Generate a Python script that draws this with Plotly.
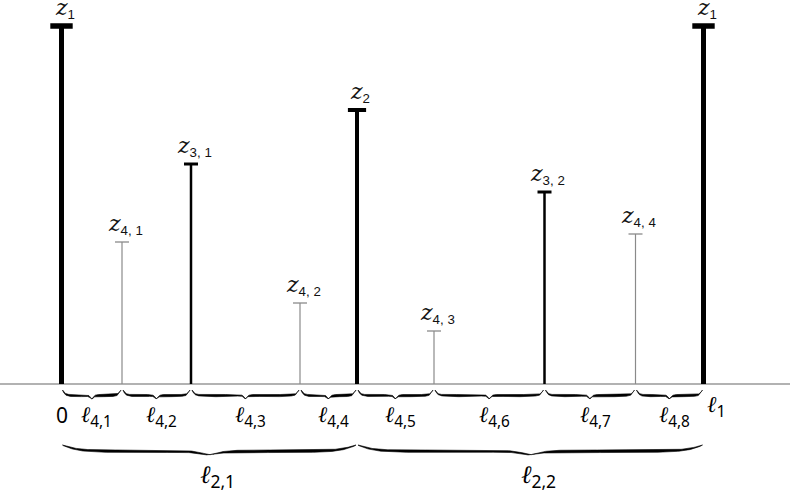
import numpy as np
import plotly.graph_objects as go

# ---- data ----
stem_subs = ["1", "4, 1", "3, 1", "4, 2", "2", "4, 3", "3, 2", "4, 4", "1"]
stem_x = [0, 60.5, 129.5, 238.5, 295.5, 372.5, 483, 574, 642]
stem_height = [358, 142, 220, 81, 274, 53, 192, 150, 358]
stem_level = [1, 4, 3, 4, 2, 4, 3, 4, 1]

fine_subs = ["4,1", "4,2", "4,3", "4,4", "4,5", "4,6", "4,7", "4,8"]
coarse_subs = ["2,1", "2,2"]
coarse_bounds = [0, 295.5, 642]
end_labels = ["0", "1"]

ELL = "<span style='font-family:DejaVu Serif'><i>ℓ</i></span>"
ZED = "<span style='font-family:DejaVu Serif;font-size:22px'><i>z</i></span>"

# ---- styles ----
level_style = {  # stem width, cap width, cap thickness, color
    1: (5, 16, 5.5, "black"),
    2: (4, 13, 4, "black"),
    3: (2.5, 10, 3, "black"),
    4: (1.2, 10, 1.3, "#8a8a8a"),
}
SANS = "Noto Sans, DejaVu Sans"

fig = go.Figure()

# stems + caps
for lvl in [4, 3, 2, 1]:
    sw, cw, ct, col = level_style[lvl]
    xs, ys, cx, cy = [], [], [], []
    for x, h, l in zip(stem_x, stem_height, stem_level):
        if l == lvl:
            xs += [x, x, None]
            ys += [0, h, None]
            cx.append(x)
            cy.append(h)
    fig.add_trace(go.Scatter(x=xs, y=ys, mode="lines",
                             line=dict(color=col, width=sw), hoverinfo="skip"))
    fig.add_trace(go.Scatter(x=cx, y=cy, mode="markers",
                             marker=dict(symbol="line-ew", size=cw,
                                         line=dict(color=col, width=ct)),
                             hoverinfo="skip"))


def brace(x0, x1, y0, depth, beta, wmax, n=160):
    half = (x1 - x0) / 2.0
    s = np.linspace(0, half, n)
    yh = 1 / (1 + np.exp(-beta * s)) + 1 / (1 + np.exp(-beta * (s - half)))
    yh = (yh - yh[0]) / (yh[-1] - yh[0])
    u = s / half
    w = wmax * np.clip(4 * u * (1 - u), 0, 1) ** 0.5
    upper_l_x = x0 + s
    upper_l_y = y0 - depth * yh
    upper_r_x = (x1 - s)[::-1]
    upper_r_y = upper_l_y[::-1]
    lower_l_y = upper_l_y - w
    lower_r_y = lower_l_y[::-1]
    px = np.concatenate([upper_l_x, upper_r_x, upper_r_x[::-1], upper_l_x[::-1]])
    py = np.concatenate([upper_l_y, upper_r_y, lower_r_y[::-1], lower_l_y[::-1]])
    return px, py


# fine braces
for i in range(len(stem_x) - 1):
    a, b = stem_x[i] + 1, stem_x[i + 1] - 1
    px, py = brace(a, b, -6, 9, 0.7, 2.2)
    fig.add_trace(go.Scatter(x=px, y=py, mode="lines", fill="toself",
                             fillcolor="black", line=dict(color="black", width=0.6),
                             hoverinfo="skip"))
    fig.add_annotation(x=(stem_x[i] + stem_x[i + 1]) / 2, y=-33,
                       text=ELL + "<sub>" + fine_subs[i] + "</sub>",
                       showarrow=False, xshift=5, xanchor="center", yanchor="middle",
                       font=dict(size=22, family=SANS, color="black"))

# coarse braces
for i in range(len(coarse_bounds) - 1):
    a, b = coarse_bounds[i] + 1, coarse_bounds[i + 1] - 1
    px, py = brace(a, b, -61, 10, 0.12, 2.6)
    fig.add_trace(go.Scatter(x=px, y=py, mode="lines", fill="toself",
                             fillcolor="black", line=dict(color="black", width=0.6),
                             hoverinfo="skip"))
    fig.add_annotation(x=(coarse_bounds[i] + coarse_bounds[i + 1]) / 2, y=-92,
                       text=ELL + "<sub>" + coarse_subs[i] + "</sub>",
                       showarrow=False, xshift=8,
                       xanchor="center", yanchor="middle",
                       font=dict(size=25, family=SANS, color="black"))

# stem labels
for x, h, t in zip(stem_x, stem_height, stem_subs):
    fig.add_annotation(x=x, y=h, text=ZED + "<sub>" + t + "</sub>", showarrow=False,
                       xshift=3, yshift=2, xanchor="center", yanchor="bottom",
                       font=dict(size=19, family="Liberation Sans, Arial", color="#111"))

# end labels
fig.add_annotation(x=stem_x[0], y=-31, text=end_labels[0], showarrow=False,
                   xanchor="center", yanchor="middle",
                   font=dict(size=21, family=SANS, color="black"))
fig.add_annotation(x=stem_x[-1], y=-22, text=ELL + "<sub>" + end_labels[1] + "</sub>",
                   showarrow=False, xanchor="left", xshift=1, yanchor="middle",
                   font=dict(size=23, family=SANS, color="black"))

fig.add_shape(type="line", xref="paper", x0=0, x1=1, yref="y", y0=0, y1=0,
              line=dict(color="#999999", width=1.5), layer="below")

fig.update_layout(
    width=790, height=495,
    margin=dict(l=0, r=0, t=0, b=0),
    paper_bgcolor="white", plot_bgcolor="white",
    showlegend=False,
    xaxis=dict(range=[-61.5, 728.5], visible=False, fixedrange=True),
    yaxis=dict(range=[-111, 384], visible=False, fixedrange=True),
)

# remove the default page margin so the figure sits at the window's corner
fig.write_html("out.html", config={"displayModeBar": False, "staticPlot": True},
               post_script="document.body.style.margin='0';document.body.style.overflow='hidden';")
